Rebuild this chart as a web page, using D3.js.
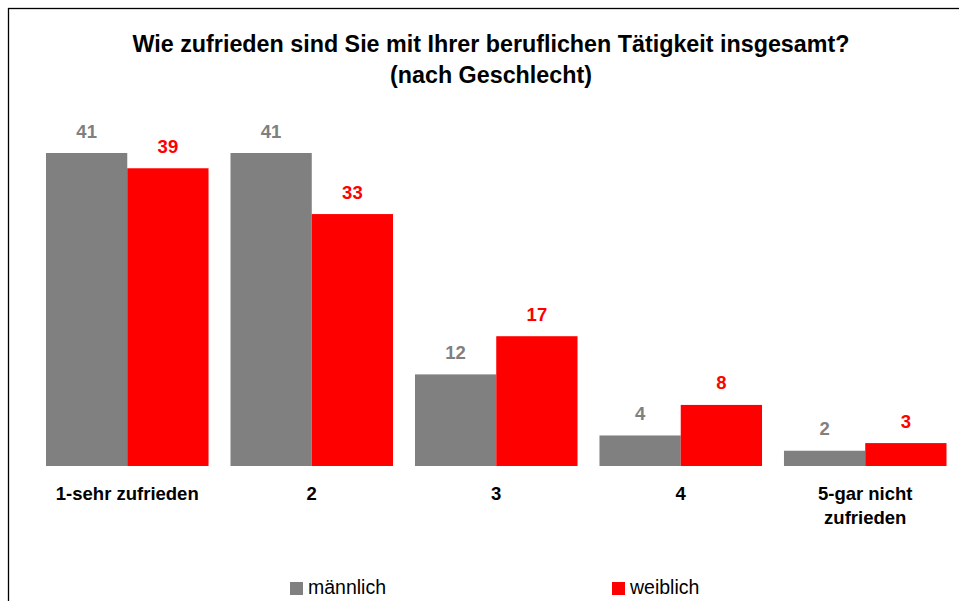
<!DOCTYPE html>
<html><head><meta charset="utf-8">
<script src="https://cdn.jsdelivr.net/npm/d3@7"></script>
<style>body{margin:0;background:#fff}svg{display:block}text{font-family:"Liberation Sans",Arial,sans-serif}</style>
</head><body><svg id="c" width="959" height="601"></svg>
<script>
const categories = ["1-sehr zufrieden", "2", "3", "4", "5-gar nicht zufrieden"];
const maennlich = [41, 41, 12, 4, 2];
const weiblich = [39, 33, 17, 8, 3];
const seriesNames = ["männlich", "weiblich"];
const colors = ["#808080", "#ff0000"];
const titleLines = ["Wie zufrieden sind Sie mit Ihrer beruflichen Tätigkeit insgesamt?", "(nach Geschlecht)"];

const svg = d3.select("#c");
svg.append("rect").attr("x", 8.5).attr("y", 8.5).attr("width", 960).attr("height", 600)
  .attr("fill", "#fff").attr("stroke", "#000").attr("stroke-width", 1.3);

svg.selectAll("text.title").data(titleLines).join("text").attr("class", "title")
  .attr("x", 491).attr("y", (d, i) => 52 + i * 31).attr("text-anchor", "middle")
  .attr("font-size", 23.3).attr("font-weight", "bold").attr("fill", "#000").text(d => d);

const x = d3.scaleBand().domain(categories).range([35, 957.5]).paddingInner(0.119).paddingOuter(0.0596);
const xs = d3.scaleBand().domain([0, 1]).range([0, x.bandwidth()]);
const y = d3.scaleLinear().domain([0, 41]).range([466, 153]);

const data = categories.map((c, i) => ({c, vals: [maennlich[i], weiblich[i]]}));
const g = svg.selectAll("g.cat").data(data).join("g").attr("class", "cat")
  .attr("transform", d => `translate(${x(d.c)},0)`);
g.selectAll("rect").data(d => d.vals).join("rect")
  .attr("x", (d, i) => xs(i)).attr("width", xs.bandwidth())
  .attr("y", d => y(d)).attr("height", d => y(0) - y(d)).attr("fill", (d, i) => colors[i]);
g.selectAll("text.val").data(d => d.vals).join("text").attr("class", "val")
  .attr("x", (d, i) => xs(i) + xs.bandwidth() / 2).attr("y", d => y(d) - 15.5)
  .attr("text-anchor", "middle").attr("font-size", 18.5).attr("font-weight", "bold")
  .attr("fill", (d, i) => colors[i]).text(d => d);

// category labels
const labLines = {"5-gar nicht zufrieden": ["5-gar nicht", "zufrieden"]};
g.each(function(d) {
  const lines = labLines[d.c] || [d.c];
  d3.select(this).selectAll("text.cl").data(lines).join("text").attr("class", "cl")
    .attr("x", x.bandwidth() / 2).attr("y", (l, i) => 500 + i * 24)
    .attr("text-anchor", "middle").attr("font-size", 18.5).attr("font-weight", "bold")
    .attr("fill", "#000").text(l => l);
});

// legend
const legX = [290, 612];
const lg = svg.selectAll("g.leg").data(seriesNames).join("g").attr("class", "leg")
  .attr("transform", (d, i) => `translate(${legX[i]},0)`);
lg.append("rect").attr("x", 0).attr("y", 582).attr("width", 13).attr("height", 13).attr("fill", (d, i) => colors[i]);
lg.append("text").attr("x", 18).attr("y", 594).attr("font-size", 19.5).attr("fill", "#000").text(d => d);
</script></body></html>
